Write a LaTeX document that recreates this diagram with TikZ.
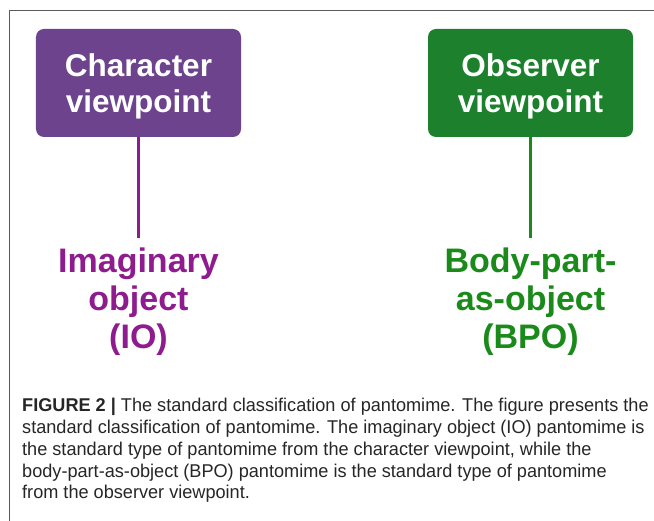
\documentclass[tikz,border=0pt]{standalone}
\usepackage{fontspec}
\setmainfont{Liberation Sans}
\newfontfamily\capfont[FakeStretch=0.98]{Liberation Sans}
\usetikzlibrary{positioning}
\definecolor{charbox}{RGB}{108,67,140}
\definecolor{obsbox}{RGB}{28,128,44}
\definecolor{charline}{RGB}{142,28,142}
\definecolor{obsline}{RGB}{26,138,26}
\definecolor{framegray}{RGB}{90,90,90}
\begin{document}
\begin{tikzpicture}[x=1bp,y=-1bp,
    viewbox/.style={rounded corners=8bp, minimum width=205bp, minimum height=108bp,
      text=white, align=center, text depth=0pt, inner sep=0pt,
      font=\bfseries\fontsize{31.5bp}{35.5bp}\selectfont},
    typelabel/.style={align=center, anchor=north, inner sep=10bp,
      font=\bfseries\fontsize{34bp}{38bp}\selectfont},
    joinline/.style={line width=2.5bp}]
    \useasboundingbox (0,0) rectangle (654,521);
    \draw [framegray, line width=1bp] (9,521) -- (9,11) -- (654,11);

    \node[viewbox, fill=charbox] (charvp) at (138.5,83) {Character\\viewpoint};
    \node[viewbox, fill=obsbox] (obsvp) at (530.5,83) {Observer\\viewpoint};

    \node[typelabel, text=charline] (io) at (138.5,238) {Imaginary\\object\\(IO)};
    \node[typelabel, text=obsline] (bpo) at (530.5,238) {Body-part-\\as-object\\(BPO)};

    \draw[joinline, charline] (charvp) -- (io);
    \draw[joinline, obsline] (obsvp) -- (bpo);

    % caption
    \node[anchor=north west, inner sep=0pt, align=left, text=black!85,
      font=\capfont\fontsize{18.5bp}{21.8bp}\selectfont] (caption) at (22,398)
      {{\bfseries FIGURE 2 |} The standard classification of pantomime. The figure presents the\\
       standard classification of pantomime. The imaginary object (IO) pantomime is\\
       the standard type of pantomime from the character viewpoint, while the\\
       body-part-as-object (BPO) pantomime is the standard type of pantomime\\
       from the observer viewpoint.};
\end{tikzpicture}
\end{document}
